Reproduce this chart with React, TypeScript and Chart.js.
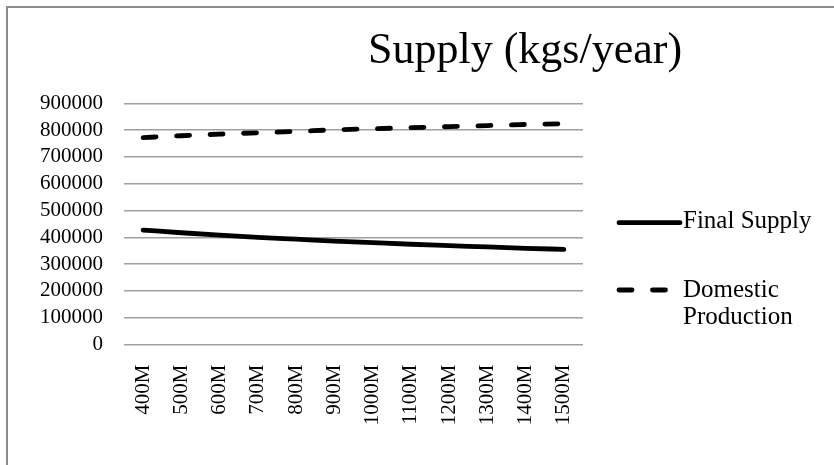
import React, { useEffect, useRef } from "react";
import { Chart, registerables } from "chart.js";

Chart.register(...registerables);

const categories = ["400M", "500M", "600M", "700M", "800M", "900M", "1000M", "1100M", "1200M", "1300M", "1400M", "1500M"];
const finalSupply = [427000, 417000, 408000, 400000, 393000, 386000, 380000, 374000, 369000, 364000, 359000, 355000];
const domesticProduction = [772000, 779000, 785000, 790000, 795000, 801000, 805000, 809000, 813000, 817000, 821000, 824000];
const seriesLabels = ["Final Supply", ["Domestic", "Production"]];
const titleText = "Supply (kgs/year)";
const yMin = 0;
const yMax = 900000;
const yStep = 100000;

const FONT = "'Liberation Serif', 'Times New Roman', serif";

const overlayPlugin = {
  id: "overlay",
  afterDraw(chart: any) {
    const ctx = chart.ctx;
    ctx.save();
    // Title
    ctx.fillStyle = "#000";
    ctx.font = `44px ${FONT}`;
    ctx.textAlign = "center";
    ctx.textBaseline = "alphabetic";
    ctx.fillText(titleText, 517, 55);

    // Legend
    const entries = [
      { lineY: 214.7, textY: [220] },
      { lineY: 282, textY: [288.7, 316] },
    ];
    chart.data.datasets.forEach((ds: any, i: number) => {
      const e = entries[i];
      ctx.save();
      ctx.strokeStyle = ds.borderColor;
      ctx.lineWidth = ds.borderWidth;
      ctx.lineCap = "round";
      ctx.setLineDash(ds.borderDash || []);
      ctx.beginPath();
      ctx.moveTo(611, e.lineY);
      ctx.lineTo(672, e.lineY);
      ctx.stroke();
      ctx.restore();
      const lbl = seriesLabels[i];
      const lines = Array.isArray(lbl) ? lbl : [lbl];
      ctx.font = `25px ${FONT}`;
      ctx.textAlign = "left";
      ctx.fillStyle = "#000";
      lines.forEach((t: string, j: number) => ctx.fillText(t, 675, e.textY[j]));
    });
    ctx.restore();
  },
};

export default function App() {
  const ref = useRef<HTMLCanvasElement | null>(null);
  useEffect(() => {
    if (!ref.current) return;
    const chart = new Chart(ref.current, {
      type: "line",
      data: {
        labels: categories,
        datasets: [
          {
            label: "Final Supply",
            data: finalSupply,
            borderColor: "#000",
            backgroundColor: "#000",
            borderWidth: 4.8,
            borderCapStyle: "round",
            pointRadius: 0,
            tension: 0.4,
            cubicInterpolationMode: "monotone",
          },
          {
            label: "Domestic Production",
            data: domesticProduction,
            borderColor: "#000",
            backgroundColor: "#000",
            borderWidth: 4.8,
            borderDash: [13, 20.5],
            borderCapStyle: "round",
            pointRadius: 0,
            tension: 0.4,
            cubicInterpolationMode: "monotone",
          },
        ],
      },
      options: {
        responsive: false,
        animation: false,
        layout: { padding: { left: 0, right: 251, top: 95.3, bottom: 0 } },
        plugins: {
          legend: { display: false },
          title: { display: false },
          tooltip: { enabled: false },
        },
        scales: {
          x: {
            offset: true,
            grid: { display: false, drawTicks: false },
            border: { display: false },
            ticks: {
              autoSkip: false,
              maxRotation: 90,
              minRotation: 90,
              padding: 20,
              color: "#000",
              font: { family: FONT, size: 21 },
            },
            afterFit(scale: any) {
              scale.height = 120.5;
            },
          },
          y: {
            min: yMin,
            max: yMax,
            grid: { color: "#a0a0a0", lineWidth: 1.5, drawTicks: false },
            border: { display: false },
            ticks: {
              stepSize: yStep,
              autoSkip: false,
              padding: 21,
              color: "#000",
              font: { family: FONT, size: 21 },
              callback: (v: any) => String(v),
            },
            afterFit(scale: any) {
              scale.width = 116;
            },
          },
        },
      },
      plugins: [overlayPlugin],
    } as any);
    return () => chart.destroy();
  }, []);

  return (
    <div style={{ position: "fixed", inset: 0, overflow: "hidden", background: "#fff" }}>
      <div
        style={{
          position: "absolute",
          left: 6,
          top: 6,
          width: 828,
          height: 459,
          boxSizing: "border-box",
          borderTop: "2px solid #8c8c8c",
          borderLeft: "2px solid #8c8c8c",
        }}
      />
      <canvas
        ref={ref}
        width={826}
        height={457}
        style={{ position: "absolute", left: 8, top: 8, width: 826, height: 457 }}
      />
    </div>
  );
}
